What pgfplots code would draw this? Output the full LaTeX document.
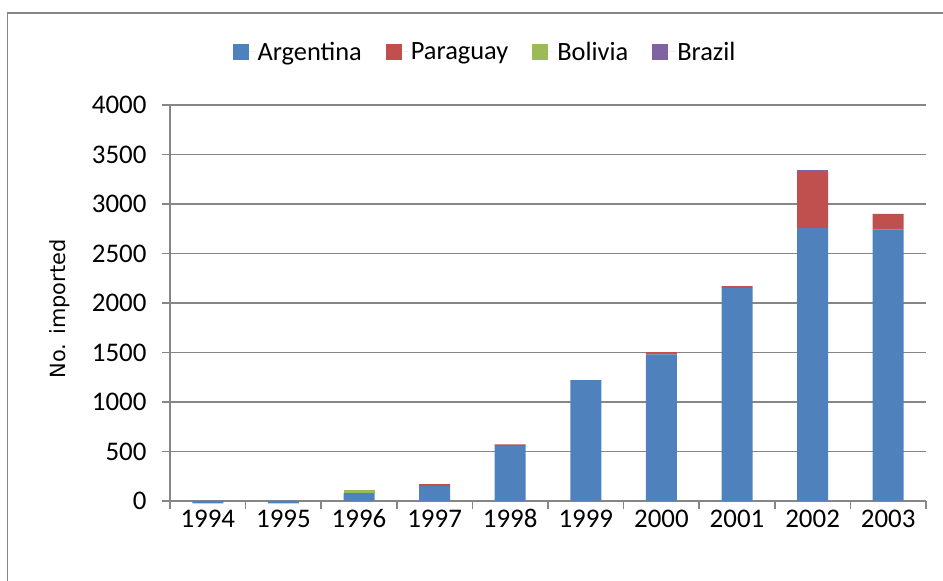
\documentclass[border=0pt]{standalone}
\usepackage{fontspec}
\setmainfont{Carlito}
\newfontfamily\labelfont{DejaVu Sans}
\usepackage{pgfplots}
\pgfplotsset{compat=1.18}
\definecolor{argblue}{HTML}{4F81BD}
\definecolor{parred}{HTML}{C0504D}
\definecolor{bolgreen}{HTML}{9BBB59}
\definecolor{brapurple}{HTML}{8064A2}
\definecolor{gridgray}{HTML}{868686}
\begin{document}
\begin{tikzpicture}
\path[use as bounding box] (0bp,0bp) rectangle (943bp,581bp);
\draw[color=gridgray, line width=1.3bp] (7.5bp,-5bp) |- (950bp,568bp);
\begin{axis}[
    at={(170bp,80bp)}, anchor=south west,
    scale only axis, width=756bp, height=396bp,
    ybar stacked, bar width=31bp,
    ymin=0, ymax=4000, ytick={0,500,...,4000},
    xmin=-0.5, xmax=9.5,
    xtick={-0.5,0.5,...,9.5},
    x tick label as interval,
    xticklabels={1994,1995,1996,1997,1998,1999,2000,2001,2002,2003},
    axis lines*=left,
    axis line style={gridgray, line width=1.5bp},
    ymajorgrids, grid style={gridgray, line width=1.5bp},
    tick style={gridgray, line width=1.5bp},
    major tick length=8bp, tick align=outside,
    clip=false,
    ticklabel style={font=\fontsize{27}{32}\selectfont, text=black},
    yticklabel style={xshift=-12bp},
    xticklabel style={text height=18bp, text depth=0bp, yshift=3bp},
    /pgf/number format/assume math mode=true,
    /pgf/number format/set thousands separator={},
    ylabel={No. imported},
    ylabel style={font=\labelfont\fontsize{21}{25}\selectfont, at={(axis description cs:-0.1455,0.485)}, anchor=center},
    legend style={at={(0.4167,1.134)}, anchor=center, draw=none, legend columns=-1,
        font=\fontsize{26.5}{31}\selectfont,
        /tikz/every even column/.append style={column sep=22bp}},
    legend image code/.code={\fill[#1] (0bp,-8bp) rectangle (16bp,8bp); \path (0bp,0bp) -- (23bp,0bp);},
]
\addplot[fill=argblue, draw=none] coordinates {(0,-25) (1,-25) (2,80) (3,150) (4,555) (5,1220) (6,1480) (7,2150) (8,2760) (9,2740)};
\addplot[fill=parred, draw=none] coordinates {(0,0) (1,0) (2,0) (3,20) (4,18) (5,0) (6,25) (7,20) (8,565) (9,160)};
\addplot[fill=bolgreen, draw=none] coordinates {(0,0) (1,0) (2,30) (3,0) (4,0) (5,0) (6,0) (7,0) (8,0) (9,0)};
\addplot[fill=brapurple, draw=none] coordinates {(0,0) (1,0) (2,0) (3,0) (4,0) (5,0) (6,0) (7,0) (8,15) (9,0)};
\legend{Argentina,Paraguay,Bolivia,Brazil}
\end{axis}
\end{tikzpicture}
\end{document}
